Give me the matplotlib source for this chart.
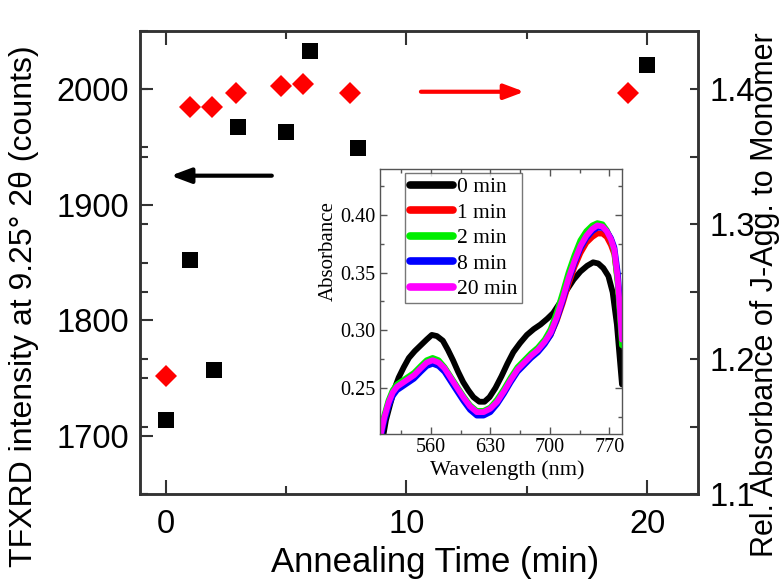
import matplotlib
matplotlib.use("Agg")
import matplotlib.pyplot as plt
from matplotlib.ticker import MultipleLocator

# main panel: annealing time series
time_xrd = [0, 1, 2, 3, 5, 6, 8, 20]
xrd_counts = [1714, 1852, 1757, 1967, 1963, 2033, 1949, 2021]

time_abs = [0, 1, 1.9, 2.9, 4.8, 5.7, 7.65, 19.2]
rel_abs = [1.1875, 1.387, 1.387, 1.397, 1.402, 1.404, 1.397, 1.397]

# inset: absorbance spectra
wl_0 = [503, 507, 512, 517, 522, 528, 534, 541, 548, 555, 561, 567, 574, 580,
        586, 592, 598, 604, 610, 617, 623, 629, 636, 643, 650, 657, 665, 673,
        681, 689, 697, 704, 712, 720, 728, 736, 744, 751, 757, 763, 769, 774,
        779, 785]
abs_0 = [0.205, 0.222, 0.236, 0.249, 0.259, 0.268, 0.276, 0.282, 0.287, 0.292,
         0.296, 0.295, 0.291, 0.283, 0.274, 0.264, 0.255, 0.248, 0.242, 0.238,
         0.238, 0.242, 0.250, 0.260, 0.271, 0.281, 0.289, 0.296, 0.301, 0.305,
         0.310, 0.315, 0.324, 0.335, 0.344, 0.351, 0.356, 0.359, 0.358, 0.354,
         0.347, 0.333, 0.305, 0.253]

wl = [500, 505, 510, 515, 520, 526, 532, 540, 548, 555, 562, 569, 576, 583,
      590, 598, 606, 614, 622, 630, 638, 646, 654, 662, 670, 678, 686, 694,
      701, 708, 715, 722, 729, 736, 743, 750, 756, 762, 767, 772, 776, 780,
      785]
abs_1 = [0.207, 0.224, 0.237, 0.246, 0.251, 0.254, 0.257, 0.261, 0.267, 0.272,
         0.274, 0.272, 0.267, 0.259, 0.251, 0.242, 0.234, 0.229, 0.229, 0.232,
         0.238, 0.247, 0.257, 0.266, 0.272, 0.278, 0.283, 0.289, 0.296, 0.308,
         0.323, 0.340, 0.355, 0.367, 0.376, 0.381, 0.384, 0.384, 0.381, 0.374,
         0.366, 0.343, 0.295]
abs_2 = [0.208, 0.226, 0.239, 0.248, 0.253, 0.256, 0.259, 0.263, 0.269, 0.274,
         0.276, 0.274, 0.268, 0.260, 0.252, 0.243, 0.235, 0.230, 0.230, 0.233,
         0.240, 0.249, 0.259, 0.268, 0.274, 0.280, 0.285, 0.292, 0.301, 0.315,
         0.332, 0.350, 0.365, 0.378, 0.386, 0.391, 0.393, 0.392, 0.387, 0.379,
         0.368, 0.340, 0.287]
abs_8 = [0.204, 0.221, 0.234, 0.243, 0.248, 0.251, 0.254, 0.258, 0.264, 0.269,
         0.271, 0.269, 0.264, 0.256, 0.248, 0.239, 0.231, 0.226, 0.226, 0.229,
         0.236, 0.245, 0.255, 0.264, 0.270, 0.276, 0.281, 0.288, 0.296, 0.309,
         0.325, 0.343, 0.358, 0.371, 0.380, 0.386, 0.389, 0.389, 0.386, 0.380,
         0.372, 0.350, 0.300]
abs_20 = [0.207, 0.224, 0.237, 0.246, 0.251, 0.254, 0.257, 0.261, 0.267, 0.272,
          0.274, 0.272, 0.267, 0.259, 0.251, 0.242, 0.234, 0.229, 0.229, 0.232,
          0.238, 0.247, 0.257, 0.266, 0.272, 0.278, 0.283, 0.290, 0.298, 0.311,
          0.327, 0.345, 0.360, 0.373, 0.382, 0.388, 0.391, 0.390, 0.386, 0.379,
          0.370, 0.345, 0.292]

spectra = [
    ("0 min", wl_0, abs_0, "black"),
    ("1 min", wl, abs_1, "#ff0000"),
    ("2 min", wl, abs_2, "#00ee00"),
    ("8 min", wl, abs_8, "#0000ff"),
    ("20 min", wl, abs_20, "#ff00ff"),
]

# arrow annotations (data coordinates)
black_arrow = ((4.4, 1925), (0.2, 1925))
red_arrow = ((10.6, 1.398), (14.9, 1.398))

SANS = "Liberation Sans"
SERIF = "Liberation Serif"
SPINE = "#333333"

fig = plt.figure(figsize=(7.83, 5.81), dpi=100)
ax = fig.add_axes([140 / 783, 87 / 581, 558 / 783, 463 / 581])
ax2 = ax.twinx()

ax.plot(time_xrd, xrd_counts, "s", color="black", markersize=12, markeredgewidth=0, zorder=3)
ax2.plot(time_abs, rel_abs, "D", color="#ff0000", markersize=11, markeredgewidth=0, zorder=3)

ax.set_xlim(-1.08, 22.12)
ax.set_ylim(1650, 2050)
ax2.set_ylim(1.1, 1.443)

ax.xaxis.set_minor_locator(MultipleLocator(5))
ax.yaxis.set_minor_locator(MultipleLocator(50))
ax2.yaxis.set_minor_locator(MultipleLocator(0.05))

for a in (ax, ax2):
    for s in a.spines.values():
        s.set_color(SPINE)
        s.set_linewidth(1.8)

ax.tick_params(axis="x", which="both", direction="in", top=True, colors=SPINE,
               labelcolor="black", labelsize=23.5, pad=11, width=1.5)
ax.tick_params(axis="x", which="major", length=10)
ax.tick_params(axis="x", which="minor", length=6)
ax.tick_params(axis="y", which="both", direction="in", right=False, colors=SPINE,
               labelcolor="black", labelsize=23.5, pad=8, width=1.5)
ax.tick_params(axis="y", which="major", length=9)
ax.tick_params(axis="y", which="minor", length=6)
ax2.yaxis.set_ticks_position("both")
ax2.tick_params(axis="y", which="both", direction="in", colors=SPINE, labelcolor="black",
                labelsize=23.5, pad=8, width=1.5, length=6, labelleft=False, labelright=True)

ax.set_xticks([0, 10, 20])
ax.set_xticklabels(["0", "10", "20"])
ax.set_yticks([1700, 1800, 1900, 2000])
ax.set_yticklabels(["1700", "1800", "1900", "2000"])
ax2.set_yticks([1.1, 1.2, 1.3, 1.4])
ax2.set_yticklabels(["1.1", "1.2", "1.3", "1.4"])
for lab in ax.get_xticklabels() + ax.get_yticklabels() + ax2.get_yticklabels():
    lab.set_fontfamily(SANS)

ax.set_xlabel("Annealing Time (min)", fontsize=25, family=SANS)
ax.xaxis.set_label_coords(0.529, -0.147)
ax.xaxis.label.set_va("center")
ax.set_ylabel("TFXRD intensity at 9.25° 2θ (counts)", fontsize=23, family=SANS)
ax.yaxis.set_label_coords(-0.207, 0.405)
ax.yaxis.label.set_va("center")
# the right label sits over its tick labels, as in the source figure
ax2.set_ylabel("Rel. Absorbance of J-Agg. to Monomer", fontsize=22, family=SANS,
               rotation=90)
ax2.yaxis.set_label_coords(1.12, 0.43)
ax2.yaxis.label.set_va("center")

ax.annotate("", xy=black_arrow[1], xytext=black_arrow[0], xycoords="data",
            arrowprops=dict(arrowstyle="-|>,head_length=1.2,head_width=0.45",
                            color="black", lw=3, shrinkA=0, shrinkB=0))
ax2.annotate("", xy=red_arrow[1], xytext=red_arrow[0], xycoords="data",
             arrowprops=dict(arrowstyle="-|>,head_length=1.2,head_width=0.45",
                             color="#ff0000", lw=3, shrinkA=0, shrinkB=0))

# inset
ins = fig.add_axes([380 / 783, 147 / 581, 242 / 783, 265 / 581])
for label, x, y, c in spectra:
    ins.plot(x, y, color=c, lw=4.2, label=label, solid_capstyle="round",
             solid_joinstyle="round")
ins.set_xlim(500, 785)
ins.set_ylim(0.21, 0.44)
ins.xaxis.set_minor_locator(MultipleLocator(35))
ins.set_xticks([560, 630, 700, 770])
ins.set_xticklabels(["560", "630", "700", "770"])
ins.yaxis.set_minor_locator(MultipleLocator(0.025))
ins.set_yticks([0.25, 0.30, 0.35, 0.40])
ins.set_yticklabels(["0.25", "0.30", "0.35", "0.40"])
for s in ins.spines.values():
    s.set_color("#555555")
    s.set_linewidth(1.0)
ins.tick_params(which="both", direction="in", top=True, right=True, colors="#555555",
                labelcolor="black", labelsize=14.5, pad=3, width=1.0)
ins.tick_params(which="major", length=5)
ins.tick_params(which="minor", length=3)
for lab in ins.get_xticklabels() + ins.get_yticklabels():
    lab.set_fontfamily(SERIF)
ins.set_xlabel("Wavelength (nm)", fontsize=16, family=SERIF)
ins.xaxis.set_label_coords(0.525, -0.135)
ins.xaxis.label.set_va("center")
ins.set_ylabel("Absorbance", fontsize=15, family=SERIF)
ins.yaxis.set_label_coords(-0.215, 0.69)
ins.yaxis.label.set_va("center")

leg = ins.legend(loc="upper left", bbox_to_anchor=(0.105, 0.985), frameon=True, fancybox=False,
                 prop={"family": SERIF, "size": 15.5}, handlelength=2.0, handletextpad=0.2,
                 borderpad=0.2, labelspacing=0.25, borderaxespad=0)
leg.get_frame().set_edgecolor("#555555")
leg.get_frame().set_linewidth(1.0)
for h in leg.get_lines():
    h.set_linewidth(5.5)

fig.savefig("out.png", dpi=100)
